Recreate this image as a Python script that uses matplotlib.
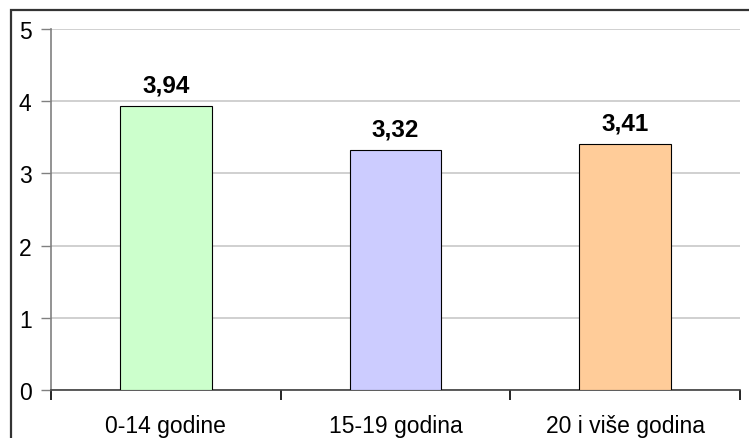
import matplotlib
matplotlib.use("Agg")
import matplotlib.pyplot as plt
from matplotlib.patches import Rectangle

categories = ["0-14 godine", "15-19 godina", "20 i više godina"]
values = [3.94, 3.32, 3.41]
labels = ["3,94", "3,32", "3,41"]
colors = ["#CCFFCC", "#CCCCFF", "#FFCC99"]
yticks = [0, 1, 2, 3, 4, 5]

plt.rcParams['font.family'] = ['Liberation Sans', 'DejaVu Sans']

W, H = 749, 439
fig = plt.figure(figsize=(W / 100, H / 100), dpi=100)

# outer border
fig.patches.append(Rectangle((11 / W, -0.01), 1.02 - 11 / W, 1 - 10.5 / H + 0.01,
                             transform=fig.transFigure, fill=False,
                             edgecolor="#333333", linewidth=1.6, zorder=0))

left, right = 51, 740
top, bottom = 30, 391
ax = fig.add_axes([left / W, 1 - bottom / H, (right - left) / W, (bottom - top) / H])

x = list(range(len(categories)))
ax.bar(x, values, width=0.4, color=colors, edgecolor="black", linewidth=0.8, zorder=3)
for xi, v, lab in zip(x, values, labels):
    ax.annotate(lab, (xi, v), xytext=(0, 21), textcoords="offset pixels",
                ha="center", va="center", fontsize=17.5, fontweight="bold")

ax.set_xlim(-0.5, len(categories) - 0.5)
ax.set_ylim(0, 5)
ax.set_yticks(yticks)
ax.set_yticklabels([str(t) for t in yticks], fontsize=16.5)
ax.yaxis.grid(True, color="#C8C8C8", linewidth=1.2, zorder=0)
ax.set_axisbelow(True)

ax.set_xticks([i + 0.5 for i in range(-1, len(categories))])
ax.set_xticklabels([])
ax.set_xticks(x, minor=True)
ax.set_xticklabels(categories, minor=True, fontsize=16.5)
ax.tick_params(axis="x", which="minor", length=0, pad=17.5)
ax.tick_params(axis="x", which="major", length=7, width=1.2, color="black", direction="out")
ax.tick_params(axis="y", length=7, width=1, color="#808080", pad=7)

for s in ["top", "right"]:
    ax.spines[s].set_visible(False)
ax.spines["left"].set_color("#808080")
ax.spines["left"].set_linewidth(1.2)
ax.spines["bottom"].set_color("#404040")
ax.spines["bottom"].set_linewidth(1.2)

fig.savefig("out.png", dpi=100)
